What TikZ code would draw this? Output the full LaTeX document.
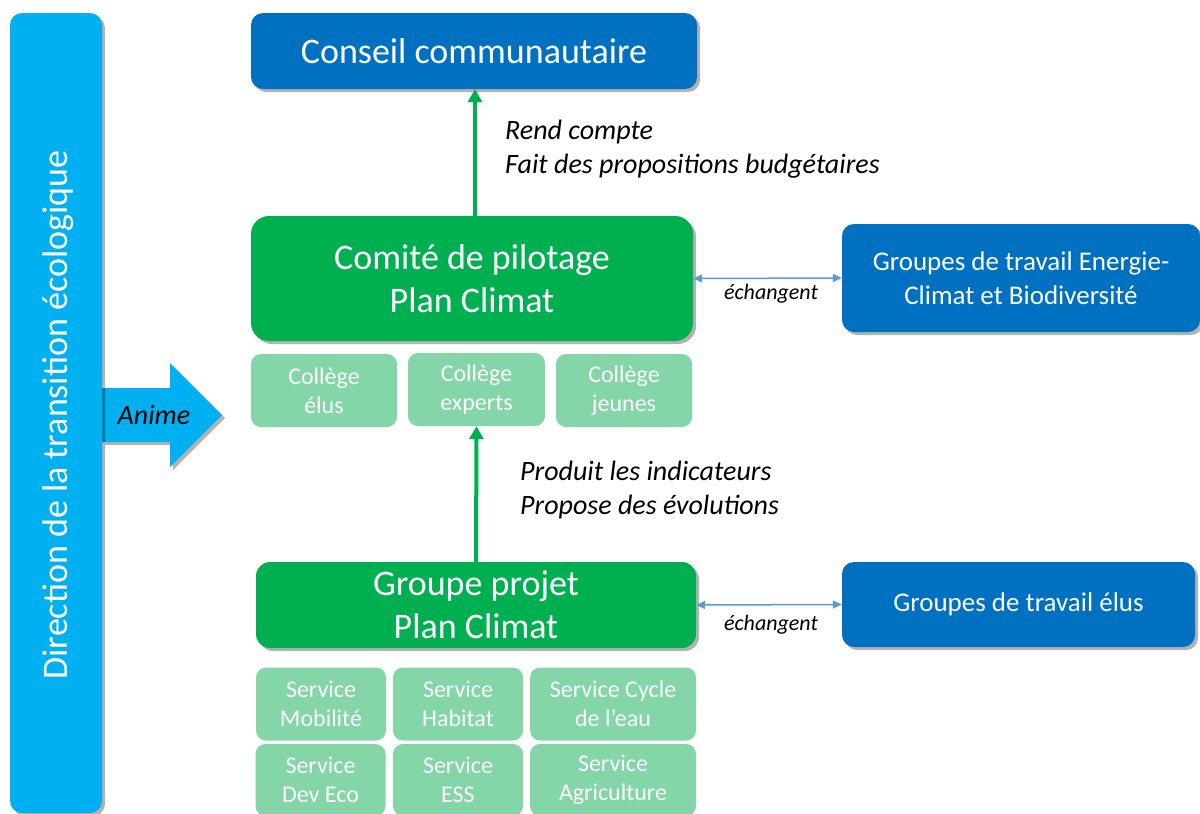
\documentclass[tikz,border=0pt]{standalone}
\usepackage{fontspec}
\setmainfont{Carlito}
\usetikzlibrary{shadows,arrows.meta}
\definecolor{dblue}{HTML}{0070C0}
\definecolor{lblue}{HTML}{00B0F0}
\definecolor{gr}{HTML}{00B050}
\definecolor{lgr}{HTML}{84D6A8}
\definecolor{xblue}{HTML}{5B9BD5}
\tikzset{
  shad/.style={drop shadow={shadow xshift=3pt,shadow yshift=-3pt,opacity=0.3,fill=black}},
  bigbox/.style={rounded corners=12pt,shad,text=white,align=center,inner sep=0pt,font=\fontsize{36}{43}\selectfont},
  bluebox/.style={bigbox,fill=dblue},
  greenbox/.style={bigbox,fill=gr,rounded corners=18pt},
  sidebox/.style={bigbox,fill=dblue,font=\fontsize{27}{34}\selectfont},
  smallbox/.style={rounded corners=10pt,fill=lgr,text=white,align=center,inner sep=0pt,font=\fontsize{24}{29}\selectfont},
  garrow/.style={draw=gr,line width=4pt,-{Triangle[length=13pt,width=14pt]}},
  xarrow/.style={draw=xblue,line width=1.5pt,{Triangle[length=9pt,width=8pt]}-{Triangle[length=9pt,width=8pt]}},
  lab/.style={font=\fontsize{28}{34}\selectfont\itshape,align=left,inner sep=0pt},
  slab/.style={font=\fontsize{22}{24}\selectfont\itshape,inner sep=0pt},
}
\begin{document}
\begin{tikzpicture}[x=1pt,y=-1pt]
\useasboundingbox (0,0) rectangle (1200,814);
% Anime arrow
\fill[lblue,shad] (102,388) -- (170,388) -- (170,363) -- (222,415) -- (170,467) -- (170,442) -- (102,442) -- cycle;
\node[lab] (anime) at (154,415) {Anime};
% left bar
\node[bigbox,fill=lblue,minimum width=92pt,minimum height=800pt,rounded corners=12pt] (bar) at (56,413) {};
\node[rotate=90,text=white,font=\fontsize{36}{40}\selectfont,inner sep=0pt] (bartext) at (58,415) {Direction de la transition écologique};
% main boxes
\node[bluebox,minimum width=446pt,minimum height=76pt] (conseil) at (474,51) {Conseil communautaire};
\node[greenbox,minimum width=442pt,minimum height=125pt] (comite) at (472,278.5) {Comité de pilotage\\Plan Climat};
\node[sidebox,minimum width=358pt,minimum height=108pt] (energie) at (1021,278) {Groupes de travail Energie-\\Climat et Biodiversité};
\node[smallbox,minimum width=146pt,minimum height=73pt] (celus) at (324,390.5) {Collège\\élus};
\node[smallbox,minimum width=137pt,minimum height=73pt] (experts) at (476.5,389.5) {Collège\\experts};
\node[smallbox,minimum width=136pt,minimum height=73pt] (jeunes) at (624,390.5) {Collège\\jeunes};
\node[greenbox,minimum width=440pt,minimum height=86pt,rounded corners=14pt] (projet) at (476,605) {Groupe projet\\Plan Climat};
\node[sidebox,minimum width=353pt,minimum height=85pt] (gelus) at (1018.5,604.5) {Groupes de travail élus};
% services
\node[smallbox,minimum width=130pt,minimum height=73pt] (mob) at (321,704) {Service\\Mobilité};
\node[smallbox,minimum width=130pt,minimum height=73pt] (hab) at (458,704) {Service\\Habitat};
\node[smallbox,minimum width=166pt,minimum height=73pt] (eau) at (613,704) {Service Cycle\\de l’eau};
\node[smallbox,minimum width=130pt,minimum height=72pt] (dev) at (320.5,780) {Service\\Dev Eco};
\node[smallbox,minimum width=130pt,minimum height=72pt] (ess) at (458,780) {Service\\ESS};
\node[smallbox,minimum width=166pt,minimum height=72pt] (agri) at (613,780) {Service\\Agriculture};
% connectors
\draw[garrow] (comite.north -| 475,0) -- (conseil.south -| 475,0);
\draw[garrow] (projet.north) -- (experts.south);
\draw[xarrow] (comite.east) -- (energie.west);
\draw[xarrow] (projet.east) -- (gelus.west);
% labels
\node[lab,anchor=west] (l1) at (505,149) {Rend compte\\Fait des propositions budgétaires};
\node[lab,anchor=west] (l2) at (520,490) {Produit les indicateurs\\Propose des évolutions};
\node[slab] (e1) at (771,294) {échangent};
\node[slab] (e2) at (771,625) {échangent};
\end{tikzpicture}
\end{document}
